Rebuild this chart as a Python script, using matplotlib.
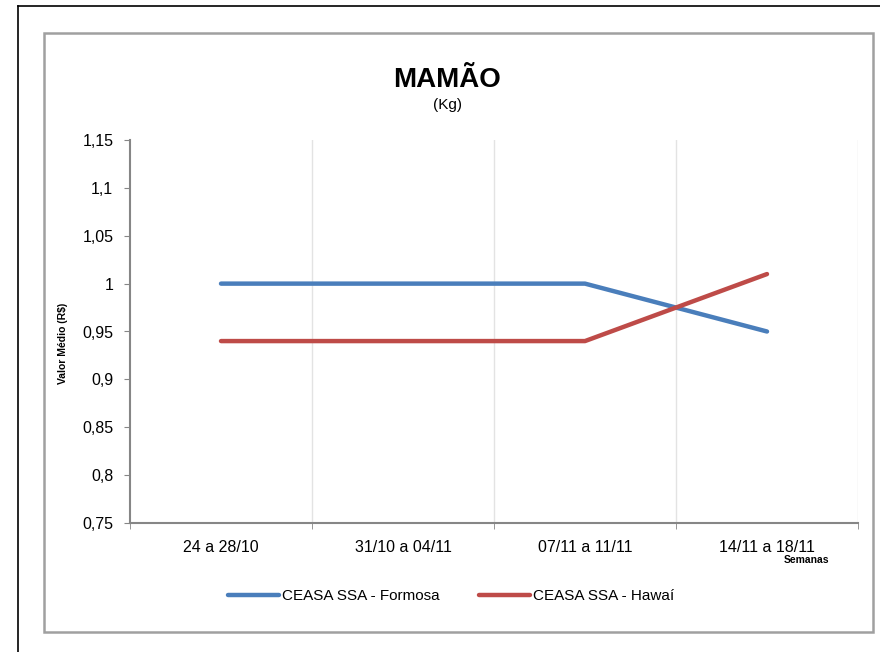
import matplotlib.pyplot as plt
from matplotlib.lines import Line2D
from matplotlib.patches import Rectangle

plt.rcParams['font.family'] = ['Liberation Sans', 'DejaVu Sans']

semanas = ['24 a 28/10', '31/10 a 04/11', '07/11 a 11/11', '14/11 a 18/11']
formosa = [1.00, 1.00, 1.00, 0.95]
hawai = [0.94, 0.94, 0.94, 1.01]
y_ticks = [0.75, 0.8, 0.85, 0.9, 0.95, 1.0, 1.05, 1.1, 1.15]
y_labels = ['0,75', '0,8', '0,85', '0,9', '0,95', '1', '1,05', '1,1', '1,15']

blue = '#4A7EBB'
red = '#BE4B48'
grey = '#868686'

fig = plt.figure(figsize=(8.8, 6.52), dpi=100)

# outer black frame (top and left visible) and grey chart frame
fig.add_artist(Line2D([18 / 880, 1.0], [1 - 6 / 652, 1 - 6 / 652], color='black', lw=1.2))
fig.add_artist(Line2D([18 / 880, 18 / 880], [0, 1 - 6 / 652], color='black', lw=1.2))
fig.add_artist(Rectangle((44 / 880, 1 - 632 / 652), (873 - 44) / 880, (632 - 33) / 652,
                         fill=False, edgecolor='#A0A0A0', lw=1.8))

ax = fig.add_axes([130 / 880, 1 - 523 / 652, (858 - 130) / 880, (523 - 140) / 652])
x = range(len(semanas))
ax.plot(x, formosa, color=blue, lw=3.2, solid_capstyle='round', label='CEASA SSA - Formosa')
ax.plot(x, hawai, color=red, lw=3.2, solid_capstyle='round', label='CEASA SSA - Hawaí')

ax.set_xlim(-0.5, 3.5)
ax.set_ylim(0.75, 1.15)
ax.set_yticks(y_ticks)
ax.set_yticklabels(y_labels, fontsize=11.5)
ax.set_xticks(list(x))
ax.set_xticklabels(semanas, fontsize=11.5)
ax.tick_params(axis='x', length=0, pad=12)
ax.tick_params(axis='y', length=4, color=grey, pad=8)

# category boundaries: grid lines and ticks
for b in [0.5, 1.5, 2.5, 3.5]:
    ax.axvline(b, color='#E3E3E3', lw=1, zorder=0)
ax.set_xticks([-0.5, 0.5, 1.5, 2.5, 3.5], minor=True)
ax.tick_params(axis='x', which='minor', length=4, color=grey)

for s in ['top', 'right']:
    ax.spines[s].set_visible(False)
for s in ['left', 'bottom']:
    ax.spines[s].set_color(grey)
    ax.spines[s].set_linewidth(1.5)

fig.text(447 / 880, 1 - 80 / 652, 'MAMÃO', ha='center', va='center', fontsize=20, fontweight='heavy')
fig.text(447 / 880, 1 - 105 / 652, '(Kg)', ha='center', va='center', fontsize=11)
fig.text(63 / 880, 1 - 343 / 652, 'Valor Médio (R$)', rotation=90, ha='center', va='center',
         fontsize=7.5, fontweight='bold')
fig.text(806 / 880, 1 - 560 / 652, 'Semanas', ha='center', va='center', fontsize=7.5, fontweight='bold')

fig.legend(loc='center', bbox_to_anchor=(451 / 880, 1 - 596 / 652), ncol=2, frameon=False,
           fontsize=11, handlelength=3.3, columnspacing=2.6, handletextpad=0.2)

fig.savefig('out.png', dpi=100)
